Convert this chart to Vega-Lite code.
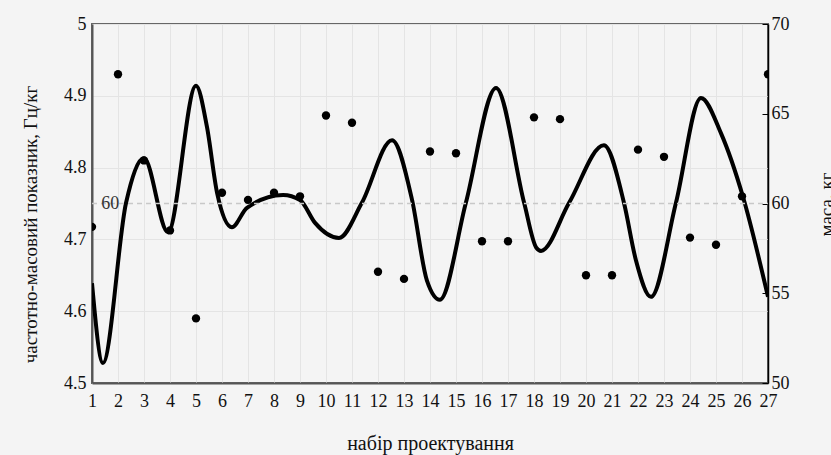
{
  "$schema": "https://vega.github.io/schema/vega-lite/v6.json",
  "width": 676,
  "height": 359,
  "autosize": {"type": "none"},
  "padding": {"left": 92, "top": 24, "right": 63, "bottom": 72},
  "background": "#f4f4f4",
  "config": {
    "font": "Liberation Serif",
    "view": {"stroke": "#666666", "strokeWidth": 2},
    "axis": {"labelFont": "Liberation Serif", "titleFont": "Liberation Serif", "labelColor": "#111111", "titleColor": "#111111", "titleFontWeight": "normal", "gridColor": "#e4e4e4", "gridWidth": 1}
  },
  "datasets": {
    "index": [
      {"x": 1.0, "v": 4.639}, {"x": 1.42, "v": 4.528}, {"x": 2.31, "v": 4.751}, {"x": 3.0, "v": 4.813},
      {"x": 3.92, "v": 4.71}, {"x": 5.0, "v": 4.914}, {"x": 5.42, "v": 4.857}, {"x": 5.81, "v": 4.765},
      {"x": 6.38, "v": 4.717}, {"x": 6.96, "v": 4.744}, {"x": 8.35, "v": 4.762}, {"x": 9.0, "v": 4.755},
      {"x": 9.58, "v": 4.723}, {"x": 10.5, "v": 4.702}, {"x": 11.38, "v": 4.751}, {"x": 12.54, "v": 4.838},
      {"x": 13.31, "v": 4.755}, {"x": 13.88, "v": 4.643}, {"x": 14.38, "v": 4.616}, {"x": 15.38, "v": 4.751},
      {"x": 16.54, "v": 4.911}, {"x": 17.62, "v": 4.751}, {"x": 18.08, "v": 4.689}, {"x": 18.27, "v": 4.684},
      {"x": 19.35, "v": 4.751}, {"x": 20.69, "v": 4.831}, {"x": 21.46, "v": 4.751}, {"x": 21.92, "v": 4.671},
      {"x": 22.5, "v": 4.62}, {"x": 23.46, "v": 4.751}, {"x": 24.42, "v": 4.897}, {"x": 25.19, "v": 4.848},
      {"x": 26.04, "v": 4.759}, {"x": 27.0, "v": 4.62}
    ],
    "mass": [
      {"x": 1, "m": 58.7}, {"x": 2, "m": 67.2}, {"x": 3, "m": 62.4}, {"x": 4, "m": 58.5}, {"x": 5, "m": 53.6},
      {"x": 6, "m": 60.6}, {"x": 7, "m": 60.2}, {"x": 8, "m": 60.6}, {"x": 9, "m": 60.4}, {"x": 10, "m": 64.9},
      {"x": 11, "m": 64.5}, {"x": 12, "m": 56.2}, {"x": 13, "m": 55.8}, {"x": 14, "m": 62.9}, {"x": 15, "m": 62.8},
      {"x": 16, "m": 57.9}, {"x": 17, "m": 57.9}, {"x": 18, "m": 64.8}, {"x": 19, "m": 64.7}, {"x": 20, "m": 56.0},
      {"x": 21, "m": 56.0}, {"x": 22, "m": 63.0}, {"x": 23, "m": 62.6}, {"x": 24, "m": 58.1}, {"x": 25, "m": 57.7},
      {"x": 26, "m": 60.4}, {"x": 27, "m": 67.2}
    ],
    "refline": [{"x": 1, "x2": 27, "m": 60}],
    "reflabel": [{"x": 1.7, "m": 60, "label": "60"}]
  },
  "encoding": {
    "x": {
      "field": "x", "type": "quantitative",
      "scale": {"domain": [1, 27], "nice": false, "zero": false},
      "axis": {
        "title": "набір проектування",
        "values": [1,2,3,4,5,6,7,8,9,10,11,12,13,14,15,16,17,18,19,20,21,22,23,24,25,26,27],
        "format": "d",
        "grid": true, "ticks": false, "labelFlush": false, "labelOverlap": false, "labelBound": false,
        "labelFontSize": 18, "labelPadding": 9, "labelDx": 4,
        "domainColor": "#555555", "domainWidth": 2,
        "titleFontSize": 20, "titleY": 66, "titleBaseline": "alphabetic"
      }
    }
  },
  "layer": [
    {
      "data": {"name": "index"},
      "mark": {"type": "line", "interpolate": "monotone", "color": "#000000", "strokeWidth": 4, "clip": true},
      "encoding": {
        "y": {
          "field": "v", "type": "quantitative",
          "scale": {"domain": [4.5, 5], "nice": false, "zero": false},
          "axis": {
            "orient": "left",
            "title": "частотно-масовий показник, Гц/кг",
            "values": [4.5, 4.6, 4.7, 4.8, 4.9, 5],
            "format": "~g",
            "grid": true, "ticks": false, "labelOverlap": false,
            "labelFontSize": 18, "labelPadding": 6,
            "domainColor": "#555555", "domainWidth": 2,
            "titleFontSize": 19, "titleAngle": 270, "titleX": -56, "titleY": 200, "titleAlign": "center", "titleBaseline": "alphabetic"
          }
        }
      }
    },
    {
      "layer": [
        {
          "data": {"name": "refline"},
          "mark": {"type": "rule", "color": "#c8c8c8", "strokeWidth": 1.5, "strokeDash": [5, 4]},
          "encoding": {
            "x2": {"field": "x2"},
            "y": {"field": "m", "type": "quantitative"}
          }
        },
        {
          "data": {"name": "reflabel"},
          "mark": {"type": "text", "fontSize": 18, "color": "#333333", "font": "Liberation Serif"},
          "encoding": {
            "y": {"field": "m", "type": "quantitative"},
            "text": {"field": "label"}
          }
        },
        {
          "data": {"name": "mass"},
          "mark": {"type": "circle", "color": "#000000", "opacity": 1, "size": 70, "clip": true},
          "encoding": {
            "y": {
              "field": "m", "type": "quantitative",
              "scale": {"domain": [50, 70], "nice": false, "zero": false},
              "axis": {
                "orient": "right",
                "title": "маса, кг",
                "values": [50, 55, 60, 65, 70],
                "grid": false, "ticks": true, "tickSize": -6, "tickColor": "#000000", "tickWidth": 1,
                "labelFontSize": 18, "labelPadding": 9, "labelOverlap": false,
                "domainColor": "#000000", "domainWidth": 1.5,
                "titleFontSize": 19, "titleAngle": 270, "titleX": 64, "titleY": 180, "titleAlign": "center", "titleBaseline": "alphabetic"
              }
            }
          }
        }
      ]
    }
  ],
  "resolve": {"scale": {"y": "independent"}}
}
